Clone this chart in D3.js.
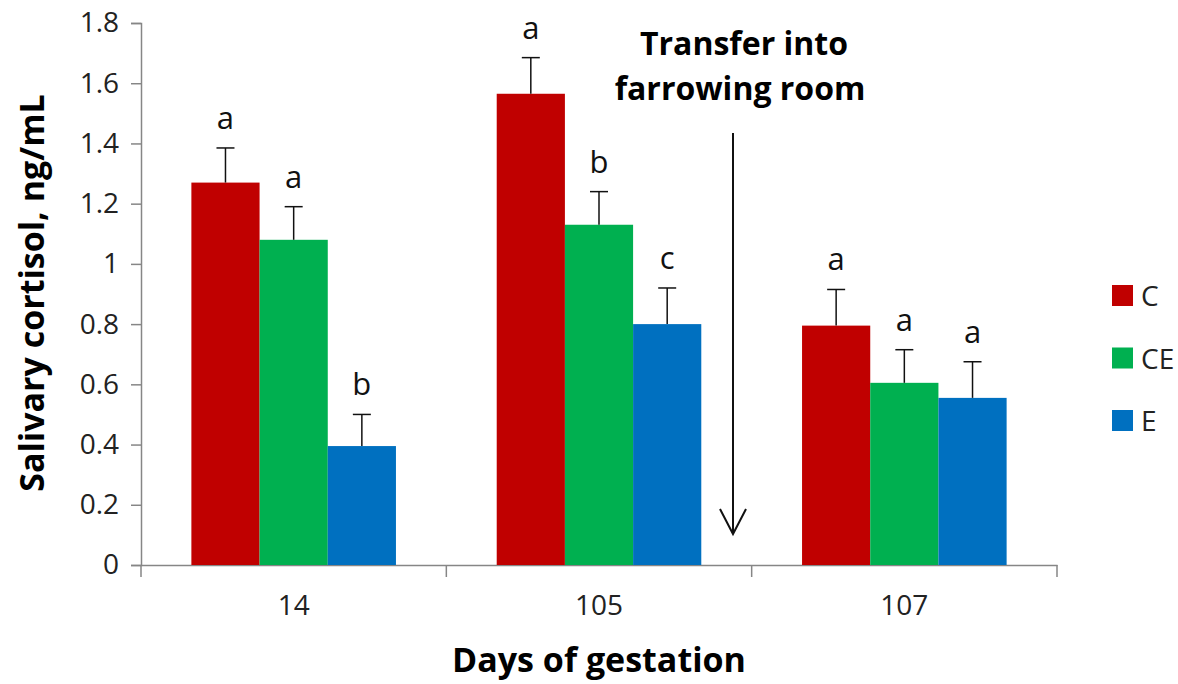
<!DOCTYPE html>
<html>
<head>
<meta charset="utf-8">
<script src="https://cdn.jsdelivr.net/npm/d3@7"></script>
<style>
  body { margin: 0; background: #fff; }
  text { font-family: "Open Sans", Lato, sans-serif; }
</style>
</head>
<body>
<svg width="1178" height="684"></svg>
<script>
const days = ["14", "105", "107"];
const groups = ["C", "CE", "E"];
const colors = ["#C00000", "#00B050", "#0070C0"];

// means and upper error (mean + SE) per group, by day
const cMean = [1.27, 1.565, 0.795];
const ceMean = [1.08, 1.13, 0.605];
const eMean = [0.395, 0.80, 0.555];
const cErr = [1.385, 1.685, 0.915];
const ceErr = [1.19, 1.24, 0.715];
const eErr = [0.50, 0.92, 0.675];
const cLetters = ["a", "a", "a"];
const ceLetters = ["a", "b", "a"];
const eLetters = ["b", "c", "a"];
const yTicks = [0, 0.2, 0.4, 0.6, 0.8, 1, 1.2, 1.4, 1.6, 1.8];

const svg = d3.select("svg");
const mLeft = 141, mRight = 1057, mTop = 23, mBottom = 565;

const y = d3.scaleLinear().domain([0, 1.8]).range([mBottom, mTop]);
const x0 = d3.scaleBand().domain(days).range([mLeft, mRight]).padding(0);
const x1 = d3.scaleBand().domain(groups)
    .range([x0.bandwidth() * 0.165, x0.bandwidth() * 0.835]).padding(0);

const means = [cMean, ceMean, eMean];
const errs = [cErr, ceErr, eErr];
const letters = [cLetters, ceLetters, eLetters];

const rows = [];
days.forEach((d, i) => {
    groups.forEach((g, j) => {
        rows.push({day: d, group: g, color: colors[j], mean: means[j][i], err: errs[j][i], letter: letters[j][i]});
    });
});

// y axis
const yAxis = svg.append('g')
    .attr('transform', `translate(${mLeft},0)`)
    .call(d3.axisLeft(y).tickValues(yTicks).tickSize(10).tickPadding(12)
        .tickFormat(d => d === 0 || d === 1 ? d : d.toFixed(1)));
yAxis.select('.domain').attr('stroke', '#868686').attr('stroke-width', 1.5);
yAxis.selectAll('.tick line').attr('stroke', '#868686').attr('stroke-width', 1.5);
yAxis.selectAll('.tick text').attr('font-size', 28).attr('fill', '#222');

// x axis
const xAxis = svg.append('g')
    .attr('transform', `translate(0,${mBottom})`)
    .call(d3.axisBottom(x0).tickSize(0).tickPadding(30));
xAxis.select('.domain').attr('stroke', '#868686').attr('stroke-width', 1.5);
xAxis.selectAll('.tick text').attr('font-size', 28).attr('fill', '#222');
svg.append('g').selectAll('line')
    .data([mLeft, ...days.map(d => x0(d) + x0.bandwidth())])
    .enter().append('line')
    .attr('x1', d => d).attr('x2', d => d)
    .attr('y1', mBottom).attr('y2', mBottom + 12)
    .attr('stroke', '#868686').attr('stroke-width', 1.5);

// bars
const bar = svg.append('g').selectAll('g')
    .data(rows).enter().append('g');

bar.append('rect')
    .attr('x', d => x0(d.day) + x1(d.group))
    .attr('width', x1.bandwidth())
    .attr('y', d => y(d.mean))
    .attr('height', d => mBottom - y(d.mean))
    .attr('fill', d => d.color);

const cx = d => x0(d.day) + x1(d.group) + x1.bandwidth() / 2;

bar.append('line')
    .attr('x1', cx).attr('x2', cx)
    .attr('y1', d => y(d.mean)).attr('y2', d => y(d.err))
    .attr('stroke', '#111').attr('stroke-width', 1.5);
bar.append('line')
    .attr('x1', d => cx(d) - 9).attr('x2', d => cx(d) + 9)
    .attr('y1', d => y(d.err)).attr('y2', d => y(d.err))
    .attr('stroke', '#111').attr('stroke-width', 1.5);

bar.append('text')
    .attr('x', cx)
    .attr('y', d => y(d.err) - 19)
    .attr('text-anchor', 'middle')
    .attr('font-size', 31)
    .attr('fill', '#111')
    .text(d => d.letter);

// annotation arrow
const ax = 733;
svg.append('line')
    .attr('x1', ax).attr('x2', ax).attr('y1', 133).attr('y2', 534)
    .attr('stroke', '#111').attr('stroke-width', 2);
svg.append('path')
    .attr('d', `M${ax - 13},509 L${ax},534 L${ax + 13},509`)
    .attr('fill', 'none').attr('stroke', '#111').attr('stroke-width', 2);

svg.append('text')
    .attr('x', 744).attr('y', 55)
    .attr('text-anchor', 'middle').attr('font-size', 32).attr('font-weight', 'bold')
    .text('Transfer into');
svg.append('text')
    .attr('x', 740).attr('y', 100)
    .attr('text-anchor', 'middle').attr('font-size', 32).attr('font-weight', 'bold')
    .text('farrowing room');

// axis titles
svg.append('text')
    .attr('transform', 'translate(44,293) rotate(-90)')
    .attr('text-anchor', 'middle').attr('font-size', 34).attr('font-weight', 'bold')
    .text('Salivary cortisol, ng/mL');
svg.append('text')
    .attr('x', 599).attr('y', 672)
    .attr('text-anchor', 'middle').attr('font-size', 34).attr('font-weight', 'bold')
    .text('Days of gestation');

// legend
const legend = svg.append('g').selectAll('g')
    .data(groups).enter().append('g')
    .attr('transform', (d, i) => `translate(1112,${285 + i * 62.5})`);
legend.append('rect')
    .attr('width', 21).attr('height', 21)
    .attr('fill', (d, i) => colors[i]);
legend.append('text')
    .attr('x', 29).attr('y', 21)
    .attr('font-size', 28).attr('fill', '#222')
    .text(d => d);
</script>
</body>
</html>
